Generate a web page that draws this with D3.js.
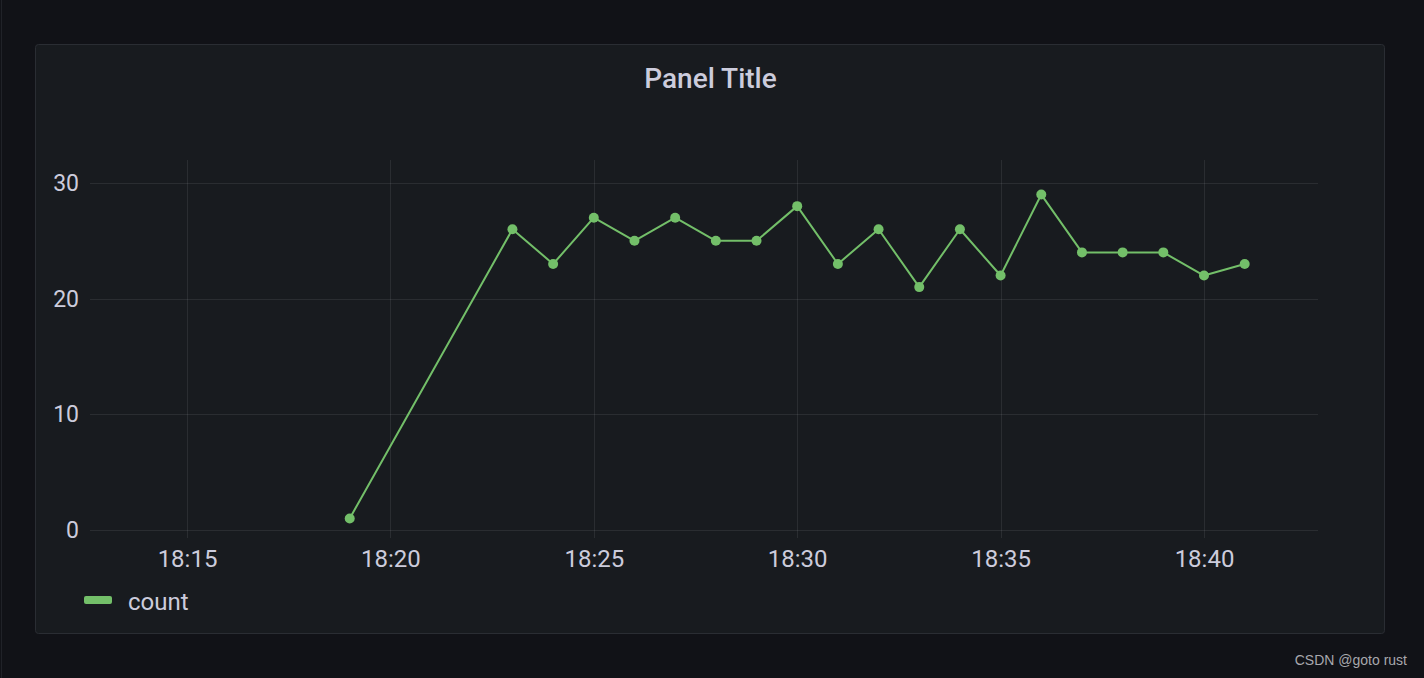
<!DOCTYPE html>
<html>
<head>
<meta charset="utf-8">
<script src="https://cdn.jsdelivr.net/npm/d3@7"></script>
<style>
html,body{margin:0;padding:0;background:#111217;}
svg{display:block;}
</style>
</head>
<body>
<svg id="chart" width="1424" height="678"></svg>
<script>
// Data
const times = ["18:19","18:23","18:24","18:25","18:26","18:27","18:28","18:29","18:30","18:31","18:32","18:33","18:34","18:35","18:36","18:37","18:38","18:39","18:40","18:41"];
const counts = [1,26,23,27,25,27,25,25,28,23,26,21,26,22,29,24,24,24,22,23];
const xTickLabels = ["18:15","18:20","18:25","18:30","18:35","18:40"];
const yTickValues = [0,10,20,30];
const seriesName = "count";
const title = "Panel Title";

const parse = s => { const [h,m] = s.split(":").map(Number); return new Date(2024,0,1,h,m,0); };
const data = times.map((t,i)=>({t:parse(t), v:counts[i]}));

const svg = d3.select("#chart");
const W = 1424, H = 678;
const font = "Roboto, 'Noto Sans', sans-serif";
const textColor = "#ccccdc";
const green = "#73bf69";

// page left stripe
svg.append("rect").attr("x",1).attr("y",0).attr("width",1).attr("height",H).attr("fill","#202228");

// panel
svg.append("rect").attr("x",35.5).attr("y",44.5).attr("width",1349).attr("height",589)
  .attr("rx",3).attr("fill","#181b1f").attr("stroke","#2a2d33").attr("stroke-width",1);

svg.append("text").attr("x",710.5).attr("y",88).attr("text-anchor","middle")
  .attr("font-family",font).attr("font-size",28).attr("font-weight",500)
  .attr("fill",textColor).text(title);

// scales
const plotLeft = 90, plotRight = 1318, plotTop = 160, y0px = 530, y30px = 183;
const minutePx = (1204-187)/25;
const t15 = parse("18:15");
const xDomainStart = new Date(t15.getTime() - (187-plotLeft)/minutePx*60000);
const xDomainEnd = new Date(t15.getTime() + (plotRight-187)/minutePx*60000);
const x = d3.scaleTime().domain([xDomainStart, xDomainEnd]).range([plotLeft, plotRight]);
const y = d3.scaleLinear().domain([0,30]).range([y0px, y30px]);

const gridColor = "rgba(204,204,220,0.10)";
const xTicks = xTickLabels.map(parse);

// vertical grid
svg.append("g").selectAll("line").data(xTicks).join("line")
  .attr("x1",d=>Math.round(x(d))+0.5).attr("x2",d=>Math.round(x(d))+0.5)
  .attr("y1",plotTop).attr("y2",538)
  .attr("stroke",gridColor).attr("stroke-width",1);
// horizontal grid
svg.append("g").selectAll("line").data(yTickValues).join("line")
  .attr("x1",plotLeft).attr("x2",plotRight)
  .attr("y1",d=>Math.round(y(d))+0.5).attr("y2",d=>Math.round(y(d))+0.5)
  .attr("stroke",gridColor).attr("stroke-width",1);

// axes via d3
const yAxis = d3.axisLeft(y).tickValues(yTickValues).tickSize(0).tickPadding(0).tickFormat(d3.format("d"));
const gy = svg.append("g").attr("transform",`translate(79,0)`).call(yAxis);
gy.select(".domain").remove();
gy.selectAll("text").attr("font-family",font).attr("font-size",23).attr("fill",textColor).attr("dy","7.5px");

const xAxis = d3.axisBottom(x).tickValues(xTicks).tickSize(0).tickPadding(0).tickFormat(d3.timeFormat("%H:%M"));
const gx = svg.append("g").attr("transform",`translate(0,567)`).call(xAxis);
gx.select(".domain").remove();
gx.selectAll("text").attr("font-family",font).attr("font-size",24).attr("fill",textColor).attr("dy","0");

// line
const line = d3.line().x(d=>x(d.t)).y(d=>y(d.v));
svg.append("path").datum(data).attr("d",line).attr("fill","none")
  .attr("stroke",green).attr("stroke-width",2).attr("stroke-linejoin","round");
svg.append("g").selectAll("circle").data(data).join("circle")
  .attr("cx",d=>x(d.t)).attr("cy",d=>y(d.v)).attr("r",5).attr("fill",green);

// legend
svg.append("rect").attr("x",84).attr("y",596).attr("width",28).attr("height",8).attr("rx",2).attr("fill",green);
svg.append("text").attr("x",128).attr("y",610).attr("font-family",font).attr("font-size",24)
  .attr("fill",textColor).text(seriesName);

// watermark
svg.append("text").attr("x",1407).attr("y",665).attr("text-anchor","end")
  .attr("font-family","'Liberation Sans', Arial, sans-serif").attr("font-size",14)
  .attr("fill","#a8a8ad").text("CSDN @goto rust");
</script>
</body>
</html>
